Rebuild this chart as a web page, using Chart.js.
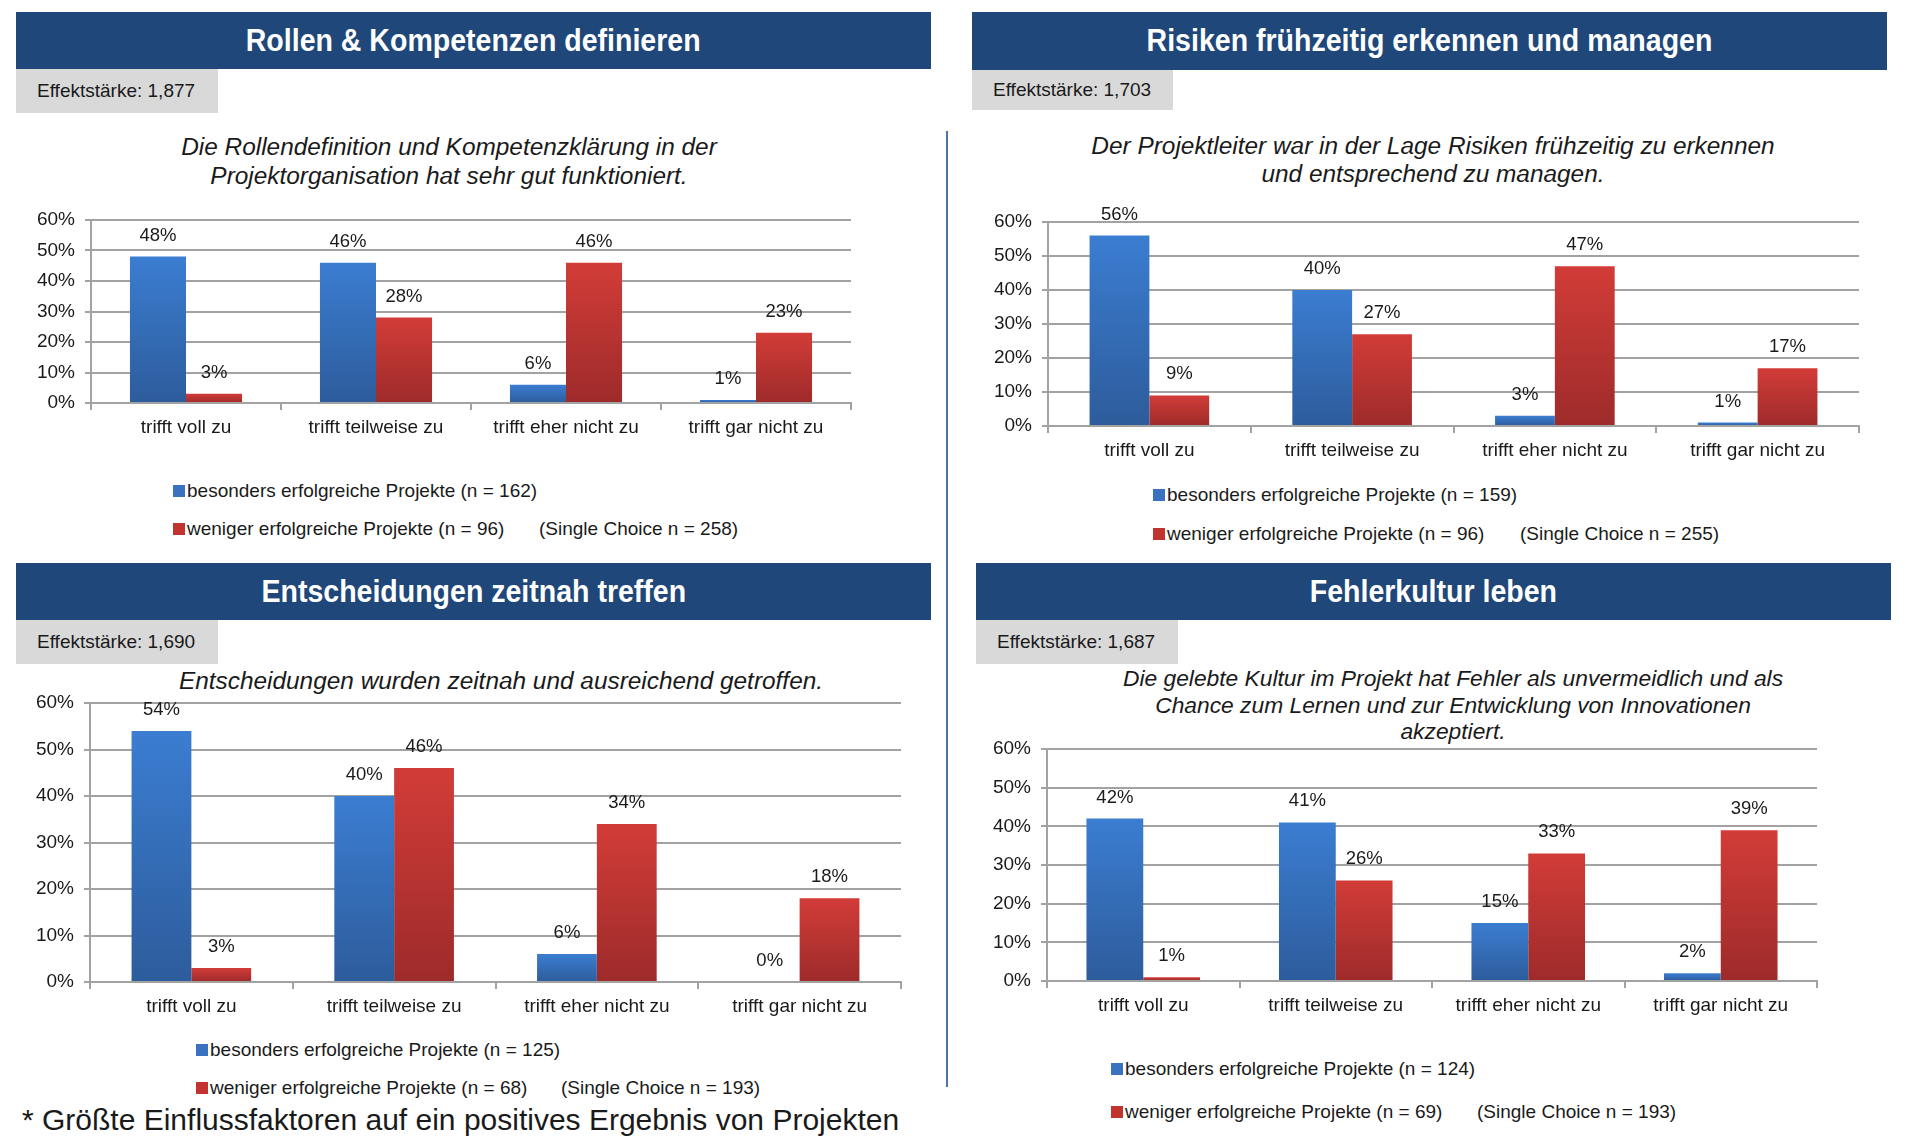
<!DOCTYPE html>
<html>
<head>
<meta charset="utf-8">
<script src="https://cdn.jsdelivr.net/npm/chart.js@4.4.0/dist/chart.umd.min.js"></script>
<style>
  body { margin: 0; width: 1920px; height: 1143px; background: #fff; position: relative; overflow: hidden;
         font-family: 'Liberation Sans', Arial, sans-serif; color: #1a1a1a; }
  .hdr { position: absolute; background: #1f477a; color: #fff; font-weight: bold; font-size: 31px;
         display: flex; align-items: center; justify-content: center; }
  .hdr span { display: inline-block; transform: scaleX(0.92); }
  .eff { position: absolute; background: #d9d9d9; font-size: 19px; box-sizing: border-box; padding-left: 21px;
         display: flex; align-items: center; }
  .sub { position: absolute; font-style: italic; font-size: 24.4px; text-align: center; transform: translateX(-50%); white-space: nowrap; }
  .leg { position: absolute; font-size: 19px; white-space: nowrap; transform: translateY(-50%); display: flex; align-items: center; }
  .sq { width: 12px; height: 12px; margin-right: 2px; display: inline-block; }
  .sq.blue { background: #3a72c0; }
  .sq.red { background: #c0332f; }
  .box { position: absolute; }
  .sep { position: absolute; left: 946px; top: 131px; width: 2px; height: 956px; background: #4f73a8; }
  .foot { position: absolute; left: 22px; top: 1103px; font-size: 30px; white-space: nowrap; }
</style>
</head>
<body>

<div class="hdr" style="left:16px;top:12px;width:915px;height:57px"><span>Rollen &amp; Kompetenzen definieren</span></div>
<div class="eff" style="left:16px;top:69px;width:202px;height:44px">Effektstärke: 1,877</div>
<div class="sub" style="left:449px;top:132px;line-height:29px">Die Rollendefinition und Kompetenzklärung in der<br>Projektorganisation hat sehr gut funktioniert.</div>
<div class="box" style="left:21px;top:190px;width:842px;height:253px"><canvas id="chartRollen"></canvas></div>
<div class="leg" style="left:173px;top:491px"><span class="sq blue"></span>besonders erfolgreiche Projekte (n = 162)</div>
<div class="leg" style="left:173px;top:529px"><span class="sq red"></span>weniger erfolgreiche Projekte (n = 96)</div>
<div class="leg" style="left:539px;top:529px">(Single Choice n = 258)</div>

<div class="hdr" style="left:972px;top:12px;width:915px;height:58px"><span>Risiken frühzeitig erkennen und managen</span></div>
<div class="eff" style="left:972px;top:70px;width:201px;height:40px">Effektstärke: 1,703</div>
<div class="sub" style="left:1433px;top:132px;line-height:28px">Der Projektleiter war in der Lage Risiken frühzeitig zu erkennen<br>und entsprechend zu managen.</div>
<div class="box" style="left:978px;top:192px;width:893px;height:274px"><canvas id="chartRisiken"></canvas></div>
<div class="leg" style="left:1153px;top:495px"><span class="sq blue"></span>besonders erfolgreiche Projekte (n = 159)</div>
<div class="leg" style="left:1153px;top:534px"><span class="sq red"></span>weniger erfolgreiche Projekte (n = 96)</div>
<div class="leg" style="left:1520px;top:534px">(Single Choice n = 255)</div>

<div class="sep"></div>

<div class="hdr" style="left:16px;top:563px;width:915px;height:57px"><span>Entscheidungen zeitnah treffen</span></div>
<div class="eff" style="left:16px;top:620px;width:202px;height:44px">Effektstärke: 1,690</div>
<div class="sub" style="left:501px;top:667px;line-height:28px">Entscheidungen wurden zeitnah und ausreichend getroffen.</div>
<div class="box" style="left:20px;top:673px;width:893px;height:349px"><canvas id="chartEntscheidungen"></canvas></div>
<div class="leg" style="left:196px;top:1050px"><span class="sq blue"></span>besonders erfolgreiche Projekte (n = 125)</div>
<div class="leg" style="left:196px;top:1088px"><span class="sq red"></span>weniger erfolgreiche Projekte (n = 68)</div>
<div class="leg" style="left:561px;top:1088px">(Single Choice n = 193)</div>

<div class="hdr" style="left:976px;top:563px;width:915px;height:57px"><span>Fehlerkultur leben</span></div>
<div class="eff" style="left:976px;top:620px;width:202px;height:44px">Effektstärke: 1,687</div>
<div class="sub" style="left:1453px;top:665px;line-height:26.5px;font-size:22.8px">Die gelebte Kultur im Projekt hat Fehler als unvermeidlich und als<br>Chance zum Lernen und zur Entwicklung von Innovationen<br>akzeptiert.</div>
<div class="box" style="left:977px;top:719px;width:852px;height:302px"><canvas id="chartFehler"></canvas></div>
<div class="leg" style="left:1111px;top:1069px"><span class="sq blue"></span>besonders erfolgreiche Projekte (n = 124)</div>
<div class="leg" style="left:1111px;top:1112px"><span class="sq red"></span>weniger erfolgreiche Projekte (n = 69)</div>
<div class="leg" style="left:1477px;top:1112px">(Single Choice n = 193)</div>

<div class="foot">* Größte Einflussfaktoren auf ein positives Ergebnis von Projekten</div>

<script>
// Antwortkategorien und Achsenticks
const categories = ['trifft voll zu', 'trifft teilweise zu', 'trifft eher nicht zu', 'trifft gar nicht zu'];
const yTickValues = [0, 10, 20, 30, 40, 50, 60];

// Werte in % (besonders erfolgreiche / weniger erfolgreiche Projekte)
const rollenErfolgreich = [48, 46, 6, 1];
const rollenWeniger = [3, 28, 46, 23];
const risikenErfolgreich = [56, 40, 3, 1];
const risikenWeniger = [9, 27, 47, 17];
const entscheidungenErfolgreich = [54, 40, 6, 0];
const entscheidungenWeniger = [3, 46, 34, 18];
const fehlerErfolgreich = [42, 41, 15, 2];
const fehlerWeniger = [1, 26, 33, 39];

Chart.defaults.font.family = "'Liberation Sans', Arial, sans-serif";
Chart.defaults.color = '#1a1a1a';

const gridColor = '#a2a2a2';

// vertical gradient per bar, lighter at top
function barGradient(topColor, bottomColor) {
    return (ctx) => {
        const chart = ctx.chart;
        const area = chart.chartArea;
        if (!area || ctx.raw === undefined) return topColor;
        const top = chart.scales.y.getPixelForValue(ctx.raw);
        if (area.bottom - top < 2) return topColor;
        const g = chart.ctx.createLinearGradient(0, top, 0, area.bottom);
        g.addColorStop(0, topColor);
        g.addColorStop(1, bottomColor);
        return g;
    };
}

const valueLabels = {
    id: 'valueLabels',
    afterDatasetsDraw(chart) {
        const ctx = chart.ctx;
        ctx.save();
        ctx.font = "18.5px 'Liberation Sans', Arial, sans-serif";
        ctx.fillStyle = '#1a1a1a';
        ctx.textAlign = 'center';
        ctx.textBaseline = 'alphabetic';
        chart.data.datasets.forEach((ds, i) => {
            chart.getDatasetMeta(i).data.forEach((bar, j) => {
                ctx.fillText(ds.data[j] + '%', bar.x, bar.y - 16);
            });
        });
        ctx.restore();
    }
};

function createChart(canvasId, erfolgreich, weniger) {
    const ctx = document.getElementById(canvasId).getContext('2d');
    return new Chart(ctx, {
        type: 'bar',
        data: {
            labels: categories,
            datasets: [{
                label: 'besonders erfolgreiche Projekte',
                data: erfolgreich,
                backgroundColor: barGradient('#3b7dd1', '#2d5c9b'),
                categoryPercentage: 0.59,
                barPercentage: 1
            }, {
                label: 'weniger erfolgreiche Projekte',
                data: weniger,
                backgroundColor: barGradient('#d23c38', '#9d2b2a'),
                categoryPercentage: 0.59,
                barPercentage: 1
            }]
        },
        options: {
            responsive: true,
            maintainAspectRatio: false,
            animation: false,
            devicePixelRatio: 1,
            layout: { padding: { top: 30, right: 12, left: 0, bottom: 0 } },
            plugins: { legend: { display: false }, tooltip: { enabled: false } },
            scales: {
                x: {
                    grid: { display: true, offset: true, drawOnChartArea: false, drawTicks: true,
                            tickLength: 7, color: gridColor, lineWidth: 2 },
                    border: { display: true, color: gridColor, width: 2 },
                    ticks: { font: { size: 19 }, color: '#1a1a1a', padding: 6, maxRotation: 0 },
                    afterFit: (scale) => { scale.height = 40; }
                },
                y: {
                    min: 0,
                    max: 60,
                    afterBuildTicks: (scale) => { scale.ticks = yTickValues.map(v => ({ value: v })); },
                    grid: { color: gridColor, lineWidth: 2, drawTicks: true, tickLength: 6 },
                    border: { display: true, color: gridColor, width: 2 },
                    ticks: { font: { size: 19 }, color: '#1a1a1a', padding: 10, callback: (v) => v + '%' },
                    afterFit: (scale) => { scale.width = 70; }
                }
            }
        },
        plugins: [valueLabels]
    });
}

createChart('chartRollen', rollenErfolgreich, rollenWeniger);
createChart('chartRisiken', risikenErfolgreich, risikenWeniger);
createChart('chartEntscheidungen', entscheidungenErfolgreich, entscheidungenWeniger);
createChart('chartFehler', fehlerErfolgreich, fehlerWeniger);
</script>
</body>
</html>
